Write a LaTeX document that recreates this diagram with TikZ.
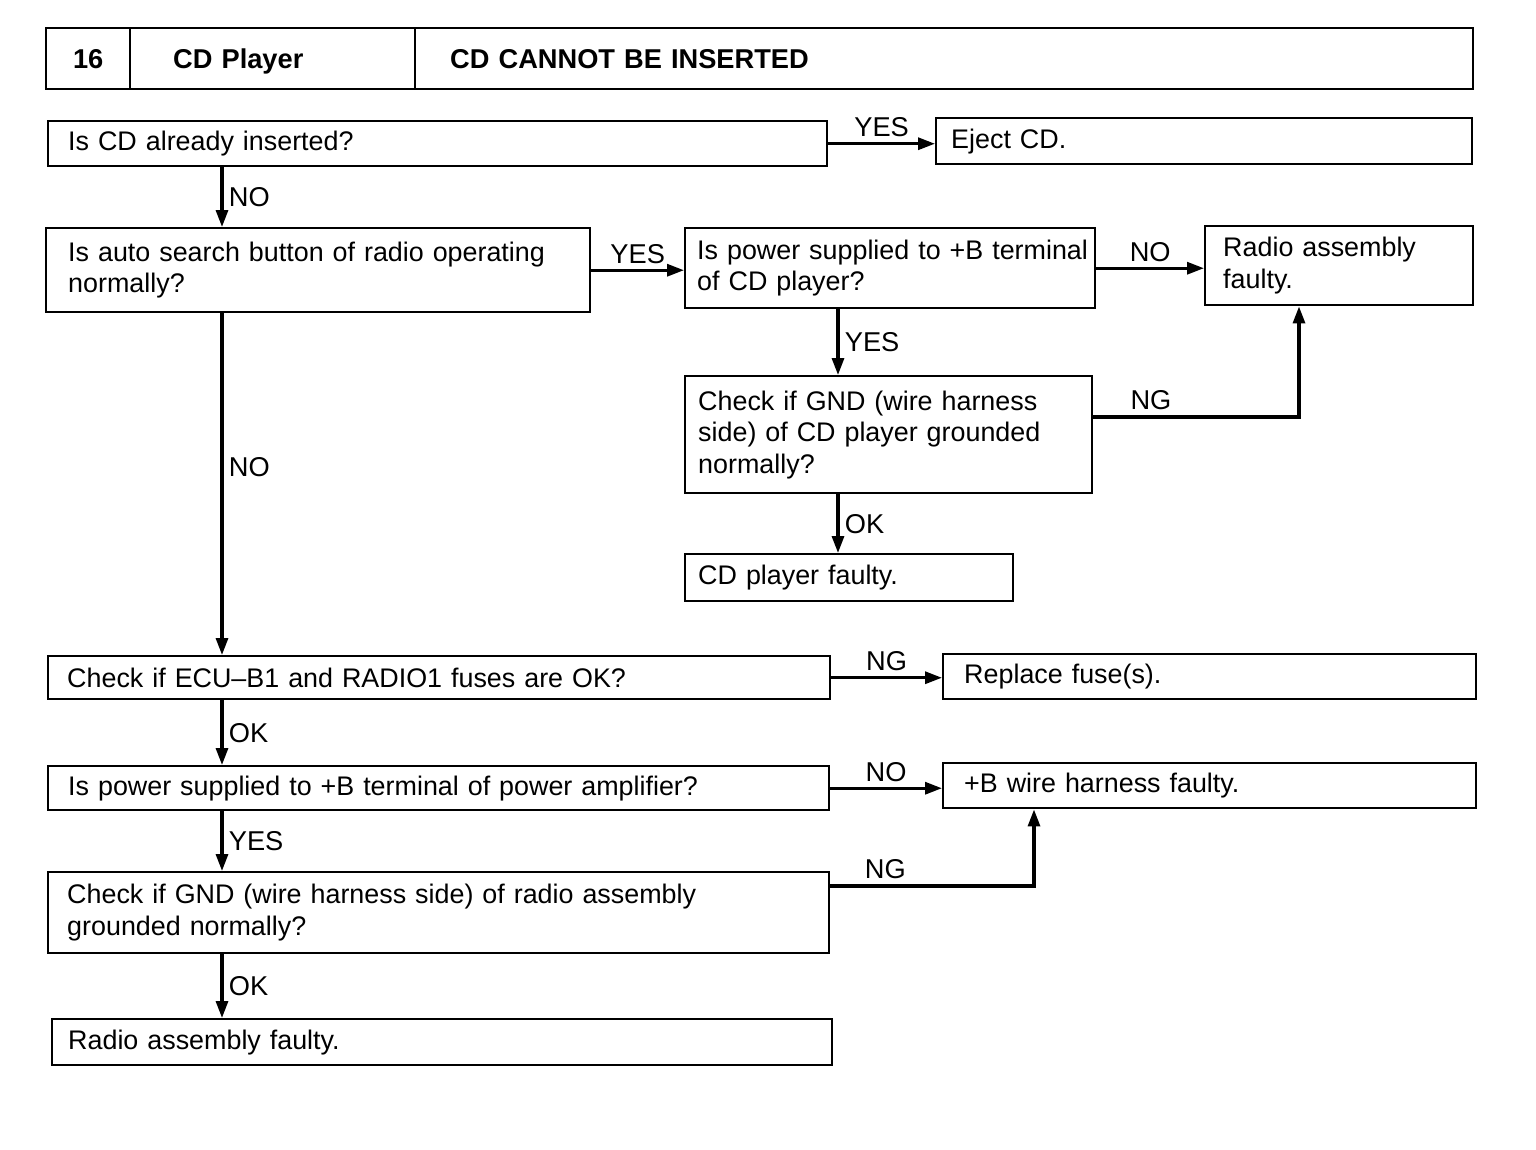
\documentclass[tikz,border=0pt]{standalone}
\usepackage{fontspec}
\setmainfont{Liberation Sans}
\usetikzlibrary{arrows.meta}
\hyphenpenalty=10000
\hbadness=10000
\hfuzz=20pt

\tikzset{
  box/.style={draw, line width=1.4pt, rectangle, anchor=north west, align=left,
    inner ysep=0.1cm, font=\fontsize{15.3}{18}\selectfont},
  head/.style={box, font=\fontsize{15.5}{18}\selectfont\bfseries, text height=11pt, text depth=0pt},
  arr/.style={line width=1.8pt, -{Triangle[length=0.34cm,width=0.24cm]}},
  lbl/.style={font=\fontsize{15.5}{18}\selectfont, inner sep=3pt}
}

\begin{document}
\begin{tikzpicture}[x=0.02cm,y=-0.02cm]
\useasboundingbox (0,0) rectangle (1536,1150);
%title bar
\node[head, align=center, text width=1.68cm-0.2cm, inner xsep=0.1cm, minimum height=1.22cm] (num) at (45,27) {16};
\node[head, text width=3.98cm, inner xsep=0.86cm, minimum height=1.22cm] (part) at (129,27) {CD Player};
\node[head, text width=19.76cm, inner xsep=0.7cm, minimum height=1.22cm] (title) at (414,27) {CD CANNOT BE INSERTED};
%questions and results
\node[box, text width=14.78cm, inner xsep=0.4cm, minimum height=0.9cm] (inserted) at (47,120) {Is CD already inserted?};
\node[box, text width=10.12cm, inner xsep=0.3cm, minimum height=0.92cm] (eject) at (935,117) {Eject CD.};
\node[box, text width=10.0cm, inner xsep=0.44cm, minimum height=1.68cm] (search) at (45,227) {Is auto search button of radio operating\\normally?};
\node[box, text width=7.72cm, inner xsep=0.24cm, minimum height=1.6cm] (cdpower) at (684,227) {\mbox{Is power supplied to +B terminal}\\of CD player?};
\node[box, text width=4.64cm, inner xsep=0.36cm, minimum height=1.58cm] (radiofault) at (1204,225) {Radio assembly\\faulty.};
\node[box, text width=7.62cm, inner xsep=0.26cm, minimum height=2.34cm] (cdgnd) at (684,375) {Check if GND (wire harness\\side) of CD player grounded\\normally?};
\node[box, text width=6.04cm, inner xsep=0.26cm, minimum height=0.94cm] (cdfault) at (684,553) {CD player faulty.};
\node[box, text width=14.88cm, inner xsep=0.38cm, minimum height=0.86cm] (fuses) at (47,655) {Check if ECU--B1 and RADIO1 fuses are OK?};
\node[box, text width=9.82cm, inner xsep=0.42cm, minimum height=0.9cm] (replace) at (942,653) {Replace fuse(s).};
\node[box, text width=14.82cm, inner xsep=0.4cm, minimum height=0.88cm] (amppower) at (47,765) {Is power supplied to +B terminal of power amplifier?};
\node[box, text width=9.82cm, inner xsep=0.42cm, minimum height=0.9cm] (wirefault) at (942,762) {+B wire harness faulty.};
\node[box, text width=14.86cm, inner xsep=0.38cm, minimum height=1.62cm] (radiognd) at (47,871) {Check if GND (wire harness side) of radio assembly\\grounded normally?};
\node[box, text width=14.96cm, inner xsep=0.32cm, minimum height=0.92cm] (radiofault2) at (51,1018) {Radio assembly faulty.};
%connector lines
\coordinate (spine) at (222,0);
\coordinate (branch) at (838,0);
\coordinate (ngup) at (1299,417);
\coordinate (ngdown) at (1034,886);
\draw[arr] (inserted.east) -- node[lbl, above]{YES} (inserted.east -| eject.west);
\draw[arr] (inserted.south -| spine) -- node[lbl, right]{NO} (search.north -| spine);
\draw[arr] (search.east) -- node[lbl, above]{YES} (search.east -| cdpower.west);
\draw[arr] (cdpower.east) -- node[lbl, above]{NO} (cdpower.east -| radiofault.west);
\draw[arr] (cdpower.south -| branch) -- node[lbl, right]{YES} (cdgnd.north -| branch);
\draw[arr] (cdgnd.east |- ngup) -- node[lbl, above, pos=0.28]{NG} (ngup) -- (ngup |- radiofault.south);
\draw[arr] (cdgnd.south -| branch) -- node[lbl, right]{OK} (cdfault.north -| branch);
\draw[arr] (search.south -| spine) -- node[lbl, right, pos=0.45]{NO} (fuses.north -| spine);
\draw[arr] (fuses.east) -- node[lbl, above]{NG} (fuses.east -| replace.west);
\draw[arr] (fuses.south -| spine) -- node[lbl, right]{OK} (amppower.north -| spine);
\draw[arr] (amppower.east) -- node[lbl, above]{NO} (amppower.east -| wirefault.west);
\draw[arr] (amppower.south -| spine) -- node[lbl, right]{YES} (radiognd.north -| spine);
\draw[arr] (radiognd.east |- ngdown) -- node[lbl, above, pos=0.27]{NG} (ngdown) -- (ngdown |- wirefault.south);
\draw[arr] (radiognd.south -| spine) -- node[lbl, right]{OK} (radiofault2.north -| spine);
\end{tikzpicture}
\end{document}
